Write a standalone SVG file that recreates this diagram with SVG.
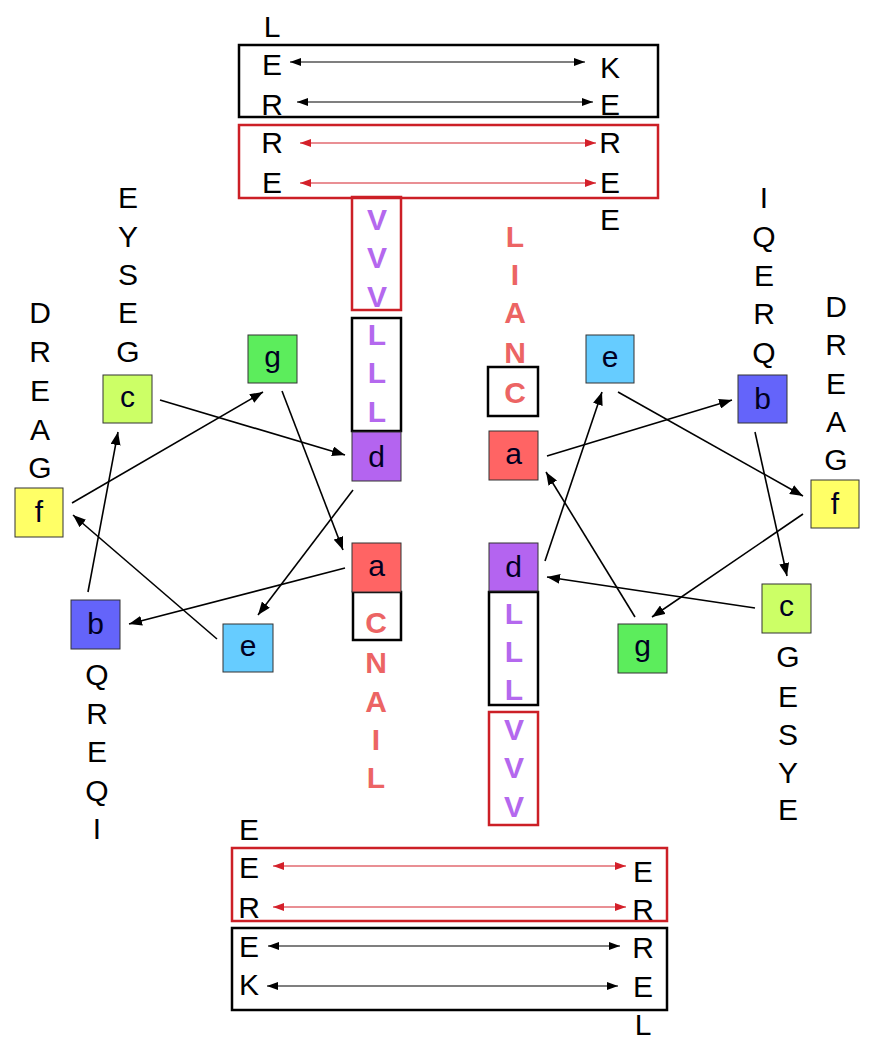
<svg xmlns="http://www.w3.org/2000/svg" width="878" height="1050" viewBox="0 0 878 1050">
<style>
text{font-family:"Liberation Sans",Arial,sans-serif;font-size:30px;text-anchor:middle}
.k{fill:#000}
.v{fill:#b468ee;font-weight:bold}
.r{fill:#ec6464;font-weight:bold}
.n{fill:#000022}
.bx{fill:none;stroke:#000;stroke-width:2.5}
.rbx{fill:none;stroke:#cc1f26;stroke-width:2.5}
.nd{stroke:#333;stroke-width:1}
.w{stroke:#000;stroke-width:1.6;fill:none}
.hb{stroke:#000;stroke-width:1.2;fill:none}
.hr{stroke:#d4202a;stroke-width:1.2;fill:none}
</style>
<defs>
<marker id="ah" markerUnits="userSpaceOnUse" markerWidth="14" markerHeight="10" refX="13" refY="5" orient="auto"><path d="M0,0 L13,5 L0,10 z" fill="#000"/></marker>
<marker id="hk" markerUnits="userSpaceOnUse" markerWidth="12" markerHeight="8" refX="11" refY="4" orient="auto-start-reverse"><path d="M0,0 L11,4 L0,8 z" fill="#000"/></marker>
<marker id="hrd" markerUnits="userSpaceOnUse" markerWidth="12" markerHeight="8" refX="11" refY="4" orient="auto-start-reverse"><path d="M0,0 L11,4 L0,8 z" fill="#d4202a"/></marker>
</defs>

<g id="top-pairs">
<rect class="bx" x="239" y="45" width="419" height="72"/>
<rect class="rbx" x="239" y="125" width="419" height="73"/>
<text class="k" x="272" y="37">L</text>
<text class="k" x="272" y="75">E</text>
<text class="k" x="272" y="115">R</text>
<text class="k" x="272" y="153">R</text>
<text class="k" x="272" y="193">E</text>
<text class="k" x="610" y="78">K</text>
<text class="k" x="610" y="115">E</text>
<text class="k" x="610" y="153">R</text>
<text class="k" x="610" y="193">E</text>
<text class="k" x="610" y="230">E</text>
</g>

<g id="bottom-pairs">
<rect class="rbx" x="232" y="848" width="435" height="73"/>
<rect class="bx" x="232" y="928" width="435" height="82"/>
<text class="k" x="249" y="840">E</text>
<text class="k" x="249" y="878">E</text>
<text class="k" x="249" y="918">R</text>
<text class="k" x="249" y="957">E</text>
<text class="k" x="249" y="995">K</text>
<text class="k" x="643" y="882">E</text>
<text class="k" x="643" y="920">R</text>
<text class="k" x="643" y="958">R</text>
<text class="k" x="643" y="997">E</text>
<text class="k" x="643" y="1035">L</text>
</g>

<g id="left-VL">
<rect class="rbx" x="352" y="197" width="49" height="113"/>
<rect class="bx" x="352" y="318" width="49" height="113"/>
<text class="v" x="377" y="230">V</text>
<text class="v" x="377" y="268">V</text>
<text class="v" x="377" y="307">V</text>
<text class="v" x="377" y="345">L</text>
<text class="v" x="377" y="383">L</text>
<text class="v" x="377" y="422">L</text>
</g>

<g id="right-LV">
<rect class="bx" x="489" y="592" width="49" height="113"/>
<rect class="rbx" x="489" y="712" width="49" height="113"/>
<text class="v" x="514" y="624">L</text>
<text class="v" x="514" y="662">L</text>
<text class="v" x="514" y="700">L</text>
<text class="v" x="514" y="740">V</text>
<text class="v" x="514" y="778">V</text>
<text class="v" x="514" y="817">V</text>
</g>

<g id="LIANC">
<rect class="bx" x="488" y="367" width="50" height="49"/>
<text class="r" x="515" y="247">L</text>
<text class="r" x="515" y="285">I</text>
<text class="r" x="515" y="323">A</text>
<text class="r" x="515" y="363">N</text>
<text class="r" x="515" y="403">C</text>
</g>

<g id="CNAIL">
<rect class="bx" x="353" y="592" width="48" height="48"/>
<text class="r" x="376" y="633">C</text>
<text class="r" x="376" y="673">N</text>
<text class="r" x="376" y="712">A</text>
<text class="r" x="376" y="750">I</text>
<text class="r" x="376" y="788">L</text>
</g>

<g id="left-labels">
<text class="k" x="40" y="323">D</text>
<text class="k" x="40" y="362">R</text>
<text class="k" x="40" y="401">E</text>
<text class="k" x="40" y="440">A</text>
<text class="k" x="40" y="478">G</text>
<text class="k" x="128" y="208">E</text>
<text class="k" x="128" y="247">Y</text>
<text class="k" x="128" y="285">S</text>
<text class="k" x="128" y="323">E</text>
<text class="k" x="128" y="362">G</text>
<text class="k" x="97" y="685">Q</text>
<text class="k" x="97" y="724">R</text>
<text class="k" x="97" y="762">E</text>
<text class="k" x="97" y="801">Q</text>
<text class="k" x="97" y="839">I</text>
</g>

<g id="right-labels">
<text class="k" x="764" y="208">I</text>
<text class="k" x="764" y="247">Q</text>
<text class="k" x="764" y="286">E</text>
<text class="k" x="764" y="324">R</text>
<text class="k" x="764" y="363">Q</text>
<text class="k" x="836" y="317">D</text>
<text class="k" x="836" y="355">R</text>
<text class="k" x="836" y="394">E</text>
<text class="k" x="836" y="432">A</text>
<text class="k" x="836" y="470">G</text>
<text class="k" x="788" y="667">G</text>
<text class="k" x="788" y="707">E</text>
<text class="k" x="788" y="745">S</text>
<text class="k" x="788" y="783">Y</text>
<text class="k" x="788" y="820">E</text>
</g>

<g id="L-c"><rect class="nd" x="103" y="375" width="49" height="48" fill="#ccff66"/><text class="n" x="127.5" y="407">c</text></g>
<g id="L-g"><rect class="nd" x="248" y="335" width="49" height="48" fill="#5ced5c"/><text class="n" x="272.5" y="367">g</text></g>
<g id="L-f"><rect class="nd" x="15" y="488" width="48" height="49" fill="#ffff66"/><text class="n" x="39" y="522">f</text></g>
<g id="L-b"><rect class="nd" x="71" y="600" width="49" height="49" fill="#6464fa"/><text class="n" x="95.5" y="634">b</text></g>
<g id="L-e"><rect class="nd" x="223" y="624" width="50" height="48" fill="#66ccff"/><text class="n" x="248" y="656">e</text></g>
<g id="L-d"><rect class="nd" x="352" y="432" width="49" height="49" fill="#b464f0"/><text class="n" x="376.5" y="467">d</text></g>
<g id="L-a"><rect class="nd" x="352" y="543" width="49" height="49" fill="#ff6464"/><text class="n" x="376.5" y="576">a</text></g>

<g id="R-e"><rect class="nd" x="586" y="335" width="48" height="48" fill="#66ccff"/><text class="n" x="610" y="367">e</text></g>
<g id="R-b"><rect class="nd" x="738" y="375" width="49" height="48" fill="#6464fa"/><text class="n" x="762.5" y="409">b</text></g>
<g id="R-a"><rect class="nd" x="489" y="431" width="49" height="49" fill="#ff6464"/><text class="n" x="513.5" y="464">a</text></g>
<g id="R-f"><rect class="nd" x="811" y="480" width="48" height="48" fill="#ffff66"/><text class="n" x="835" y="514">f</text></g>
<g id="R-d"><rect class="nd" x="489" y="543" width="49" height="48" fill="#b464f0"/><text class="n" x="513.5" y="577">d</text></g>
<g id="R-c"><rect class="nd" x="762" y="584" width="49" height="49" fill="#ccff66"/><text class="n" x="786.5" y="616">c</text></g>
<g id="R-g"><rect class="nd" x="618" y="624" width="49" height="49" fill="#5ced5c"/><text class="n" x="642.5" y="656">g</text></g>

<g id="connectors">
<line class="hb" x1="290" y1="62" x2="585" y2="62" marker-start="url(#hk)" marker-end="url(#hk)"/>
<line class="hb" x1="297" y1="102" x2="593" y2="102" marker-start="url(#hk)" marker-end="url(#hk)"/>
<line class="hr" x1="300" y1="143" x2="596" y2="143" marker-start="url(#hrd)" marker-end="url(#hrd)"/>
<line class="hr" x1="300" y1="183" x2="596" y2="183" marker-start="url(#hrd)" marker-end="url(#hrd)"/>
<line class="hr" x1="273" y1="866" x2="626" y2="866" marker-start="url(#hrd)" marker-end="url(#hrd)"/>
<line class="hr" x1="273" y1="907" x2="626" y2="907" marker-start="url(#hrd)" marker-end="url(#hrd)"/>
<line class="hb" x1="268" y1="946" x2="620" y2="946" marker-start="url(#hk)" marker-end="url(#hk)"/>
<line class="hb" x1="267" y1="986" x2="618" y2="986" marker-start="url(#hk)" marker-end="url(#hk)"/>

<line class="w" x1="160" y1="400" x2="345" y2="455" marker-end="url(#ah)"/>
<line class="w" x1="72" y1="503" x2="263" y2="392" marker-end="url(#ah)"/>
<line class="w" x1="282" y1="391" x2="343" y2="550" marker-end="url(#ah)"/>
<line class="w" x1="353" y1="490" x2="258" y2="615" marker-end="url(#ah)"/>
<line class="w" x1="345" y1="568" x2="129" y2="624" marker-end="url(#ah)"/>
<line class="w" x1="88" y1="592" x2="118" y2="432" marker-end="url(#ah)"/>
<line class="w" x1="217" y1="639" x2="73" y2="515" marker-end="url(#ah)"/>

<line class="w" x1="547" y1="456" x2="732" y2="400" marker-end="url(#ah)"/>
<line class="w" x1="618" y1="392" x2="803" y2="496" marker-end="url(#ah)"/>
<line class="w" x1="755" y1="432" x2="787" y2="576" marker-end="url(#ah)"/>
<line class="w" x1="803" y1="514" x2="652" y2="617" marker-end="url(#ah)"/>
<line class="w" x1="755" y1="608" x2="547" y2="577" marker-end="url(#ah)"/>
<line class="w" x1="635" y1="617" x2="546" y2="472" marker-end="url(#ah)"/>
<line class="w" x1="545" y1="561" x2="602" y2="392" marker-end="url(#ah)"/>
</g>
</svg>
